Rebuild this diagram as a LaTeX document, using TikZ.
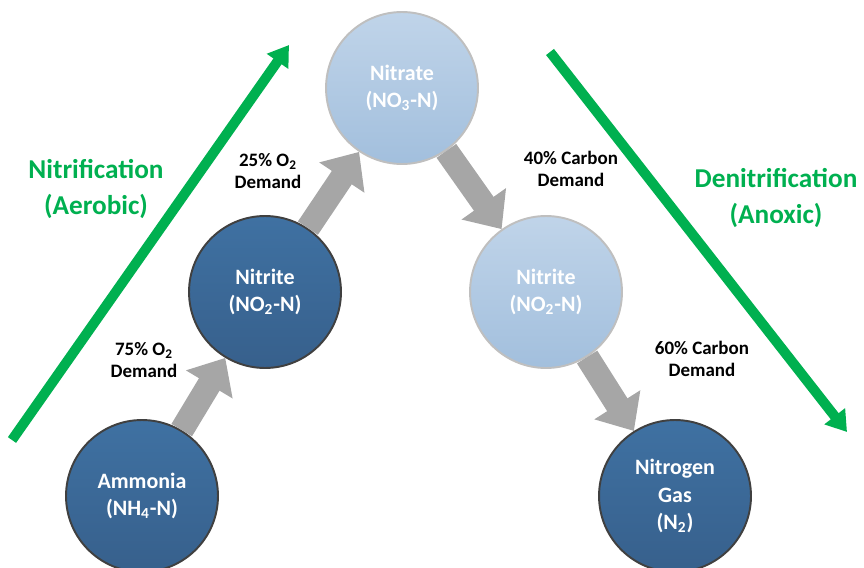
\documentclass[tikz,border=0pt]{standalone}
\usepackage{fontspec}
\setmainfont{Carlito}
\usetikzlibrary{arrows.meta}
\definecolor{nitgreen}{HTML}{00B050}
\definecolor{arrgray}{HTML}{A6A6A6}
\definecolor{darktop}{HTML}{3F71A2}
\definecolor{darkbot}{HTML}{37608C}
\definecolor{lighttop}{HTML}{C0D4E9}
\definecolor{lightbot}{HTML}{A2BFDD}
\tikzset{
	species/.style={circle, minimum size=3.04cm, inner sep=0pt, align=center, text=white,
		font=\bfseries\fontsize{12.5}{15.5}\selectfont},
	darkspecies/.style={species, draw=black!75, line width=1.1pt, top color=darktop, bottom color=darkbot},
	lightspecies/.style={species, draw=black!25, line width=1.1pt, top color=lighttop, bottom color=lightbot},
	steparrow/.style={draw=arrgray, line width=0.48cm, -{Triangle[width=1.05cm,length=0.62cm]}},
	trendarrow/.style={draw=nitgreen, line width=0.2cm, -{Triangle[width=0.5cm,length=0.4cm]}},
	demand/.style={align=center, font=\bfseries\fontsize{10.8}{12.5}\selectfont},
	process/.style={align=center, text=nitgreen, font=\bfseries\fontsize{15.5}{20}\selectfont}
}
\begin{document}
\begin{tikzpicture}[x=0.02cm,y=-0.02cm]
			\useasboundingbox (0,0) rectangle (864,567);
			\node[darkspecies] (ammonia) at (142,496) {Ammonia\\(NH\textsubscript{4}-N)};
			\node[darkspecies] (nitriteA) at (265,292) {Nitrite\\(NO\textsubscript{2}-N)};
			\node[lightspecies] (nitrate) at (402,88) {Nitrate\\(NO\textsubscript{3}-N)};
			\node[lightspecies] (nitriteB) at (546,292) {Nitrite\\(NO\textsubscript{2}-N)};
			\node[darkspecies] (nitrogen) at (675,496) {Nitrogen\\Gas\\(N\textsubscript{2})};
			\draw[steparrow] (ammonia)--(nitriteA);
			\draw[steparrow] (nitriteA)--(nitrate);
			\draw[steparrow] (nitrate)--(nitriteB);
			\draw[steparrow] (nitriteB)--(nitrogen);
			\node[demand] (demandA) at (144,360) {75\% O\textsubscript{2}\\Demand};
			\node[demand] (demandB) at (268,171) {25\% O\textsubscript{2}\\Demand};
			\node[demand] (demandC) at (571,169) {40\% Carbon\\Demand};
			\node[demand] (demandD) at (702,359) {60\% Carbon\\Demand};
			\coordinate (aerostart) at (12,440);
			\coordinate (aeroend) at (289,45);
			\coordinate (anoxstart) at (550,52);
			\coordinate (anoxend) at (847,432);
			\draw[trendarrow] (aerostart)--(aeroend);
			\draw[trendarrow] (anoxstart)--(anoxend);
			\node[process] (aerobic) at (96,189) {Nitrification\\(Aerobic)};
			\node[process] (anoxic) at (776,198) {Denitrification\\(Anoxic)};
		\end{tikzpicture}
\end{document}
